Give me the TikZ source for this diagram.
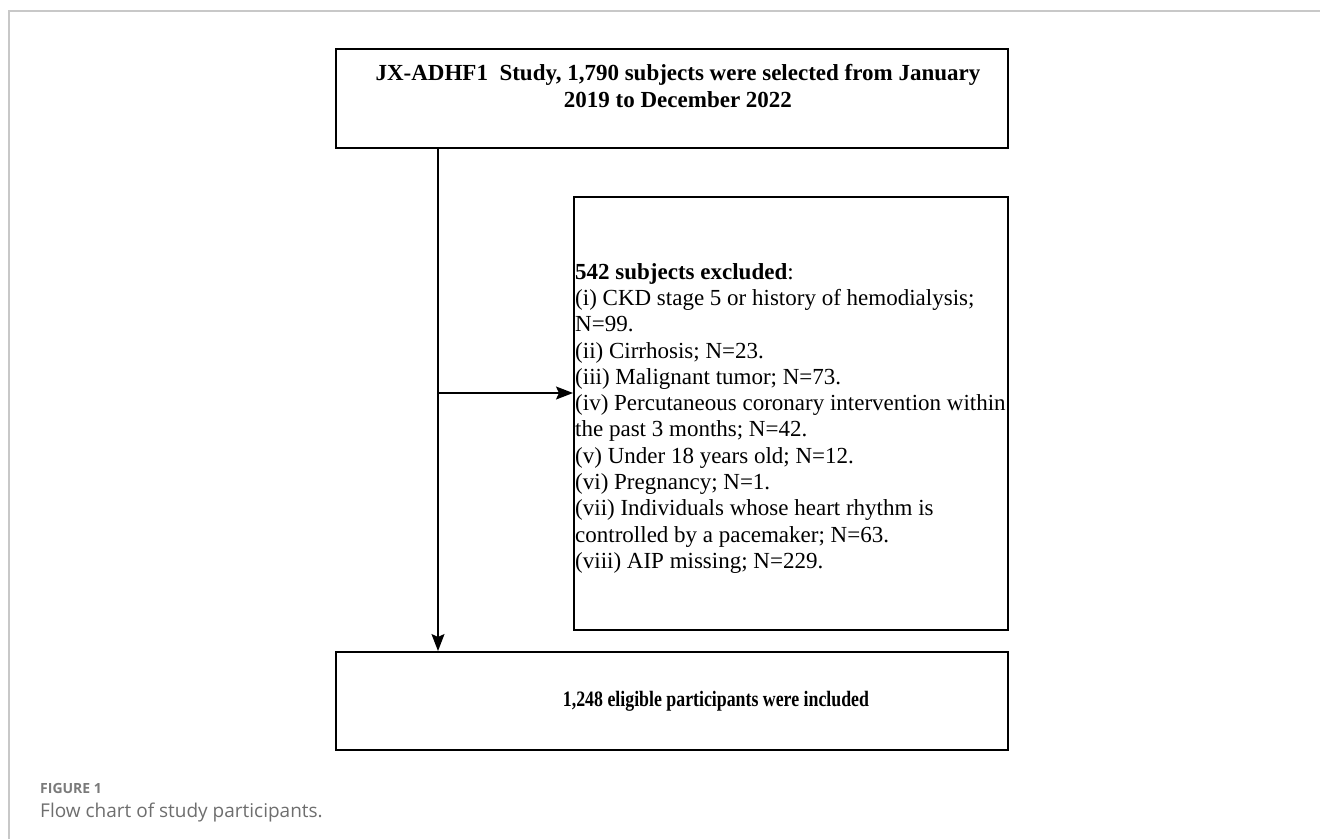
\documentclass[tikz,border=0pt]{standalone}
\usepackage{fontspec}
\setmainfont{Liberation Serif}
\newfontfamily\capfont{Open Sans}
\usetikzlibrary{arrows.meta}
\definecolor{framegray}{HTML}{C8C8C8}
\definecolor{capgray}{HTML}{7A7A7A}
\definecolor{capgray2}{HTML}{6E6E6E}
\begin{document}
\begin{tikzpicture}[x=1pt,y=-1pt,
  box/.style={draw=black, line width=1.6pt, rectangle, inner sep=0pt, anchor=north west},
  arr/.style={line width=1.5pt, -{Stealth[length=17pt,width=13pt,inset=3pt]}},
  boldtxt/.style={inner sep=0pt, font=\bfseries\fontsize{23}{27}\selectfont, align=center},
  listtxt/.style={inner sep=0pt, font=\fontsize{23}{26.3}\selectfont, align=left, anchor=north west}]
\useasboundingbox (0,0) rectangle (1320,839);
\draw[framegray, line width=1.5pt] (9,839) -- (9,11) -- (1320,11);
% boxes
\node[box, minimum width=672pt, minimum height=99pt] (top) at (335,48) {};
\node[box, minimum width=434pt, minimum height=433pt] (excl) at (573,196) {};
\node[box, minimum width=672pt, minimum height=98pt] (bot) at (335,651) {};
% texts
\node[boldtxt, anchor=center] (toptext) at (678,86) {JX-ADHF1\ \ Study, 1,790 subjects were selected from January\\2019 to December 2022};
\node[listtxt] (excltext) at (575,263) {\textbf{542 subjects excluded}:\\
(i) CKD stage 5 or history of hemodialysis;\\
N=99.\\
(ii) Cirrhosis; N=23.\\
(iii) Malignant tumor; N=73.\\
(iv) Percutaneous coronary intervention within\\
the past 3 months; N=42.\\
(v) Under 18 years old; N=12.\\
(vi) Pregnancy; N=1.\\
(vii) Individuals whose heart rhythm is\\
controlled by a pacemaker; N=63.\\
(viii) AIP missing; N=229.};
\node[boldtxt, anchor=center, font=\bfseries\fontsize{22}{25}\selectfont] (bottext) at (716,701) {\scalebox{0.81}[1]{1,248 eligible participants were included}};
% connectors
\coordinate (split) at (438,393);
\draw[arr] (split |- top.south) -- (split |- bot.north);
\draw[arr] (split) -- (split -| excl.west);
% caption
\node[inner sep=0pt, anchor=base west, font=\capfont\bfseries\fontsize{14}{17}\selectfont, text=capgray] (figlabel) at (40,793) {FIGURE 1};
\node[inner sep=0pt, anchor=base west, font=\capfont\fontsize{19}{22}\selectfont, text=capgray2] (figcap) at (40,817) {Flow chart of study participants.};
\end{tikzpicture}
\end{document}
